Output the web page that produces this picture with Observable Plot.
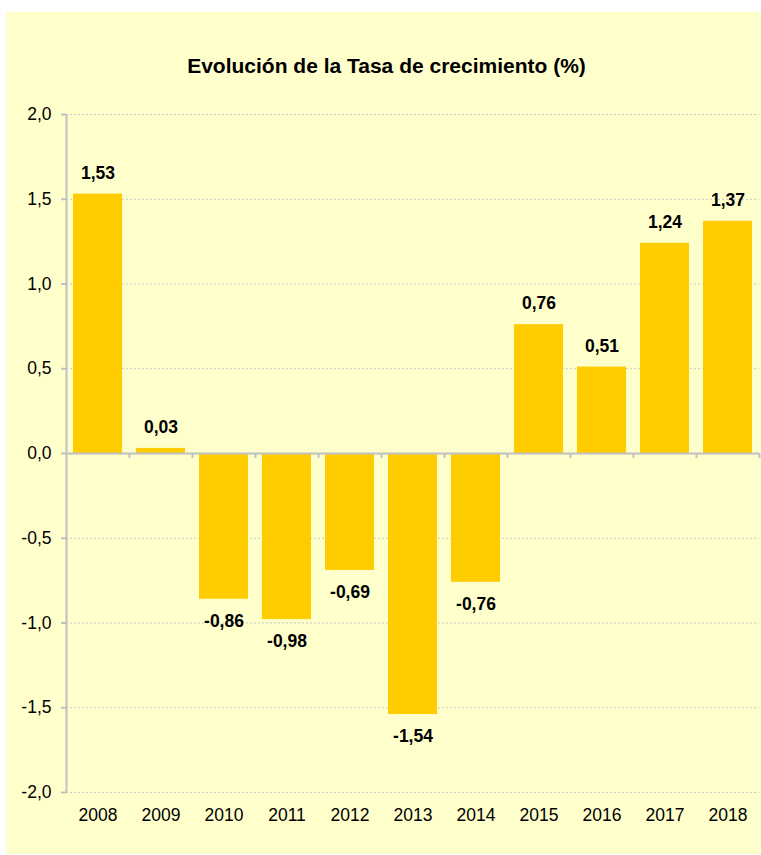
<!DOCTYPE html>
<html>
<head>
<meta charset="utf-8">
<script src="https://cdn.jsdelivr.net/npm/d3@7"></script>
<script src="https://cdn.jsdelivr.net/npm/@observablehq/plot@0.6"></script>
<style>
  html, body { margin: 0; padding: 0; background: #ffffff; }
  #wrap { position: relative; width: 761px; height: 855px; overflow: hidden; font-family: "Liberation Sans", Arial, sans-serif; }
  #panel { position: absolute; left: 6px; top: 12px; width: 755px; height: 842px; background: #FFFFCC; }
  #title { position: absolute; left: 0; width: 773px; top: 54px; line-height: 24px; text-align: center; font-weight: bold; font-size: 21px; color: #000; }
  #chart { position: absolute; left: 0; top: 0; }
</style>
</head>
<body>
<div id="wrap">
  <div id="panel"></div>
  <div id="title">Evolución de la Tasa de crecimiento (%)</div>
  <div id="chart"></div>
</div>
<script>
const years = ["2008","2009","2010","2011","2012","2013","2014","2015","2016","2017","2018"];
const values = [1.53, 0.03, -0.86, -0.98, -0.69, -1.54, -0.76, 0.76, 0.51, 1.24, 1.37];
const yTicks = [-2, -1.5, -1, -0.5, 0, 0.5, 1, 1.5, 2];

const data = years.map((y, i) => ({year: y, value: values[i]}));
const fmt1 = d => d3.format(".1f")(d).replace(".", ",").replace("−", "-");
const fmt2 = d => d3.format(".2f")(d).replace(".", ",").replace("−", "-");

const W = 761, H = 855, mL = 66, mR = 2, mT = 114, mB = 63;
const halfStep = (W - mL - mR) / years.length / 2;

const chart = Plot.plot({
  width: W,
  height: H,
  marginLeft: mL,
  marginRight: mR,
  marginTop: mT,
  marginBottom: mB,
  style: {background: "transparent", fontFamily: "Liberation Sans, Arial, sans-serif", fontSize: "17.5px", color: "#000"},
  x: {domain: years, paddingInner: 0.22, paddingOuter: 0.11, label: null},
  y: {domain: [-2, 2], label: null},
  marks: [
    Plot.ruleY(yTicks.filter(d => d !== 0), {stroke: "#c8c8c8", strokeWidth: 1, strokeDasharray: "2,2"}),
    Plot.barY(data, {x: "year", y: "value", fill: "#FFCC00"}),
    Plot.ruleY([0], {stroke: "#c0c0c0", strokeWidth: 2}),
    Plot.ruleX([years[0]], {x: d => d, dx: -halfStep, y1: -2, y2: 2, stroke: "#c0c0c0", strokeWidth: 2}),
    Plot.ruleX(years, {x: d => d, dx: halfStep, y1: 0, y2: -0.03, stroke: "#c0c0c0", strokeWidth: 2}),
    Plot.axisY({ticks: yTicks, tickFormat: fmt1, tickSize: 5, tickPadding: 10, stroke: "#c0c0c0", strokeWidth: 2, fontSize: 17.5, fill: "#000"}),
    Plot.axisX({tickSize: 0, tickPadding: 16, fontSize: 17.5, fill: "#000"}),
    Plot.text(data, {
      x: "year", y: "value",
      text: d => fmt2(d.value),
      fontWeight: "bold", fontSize: 17.5, fill: "#000",
      lineAnchor: "middle",
      filter: d => d.value >= 0,
      dy: -21
    }),
    Plot.text(data, {
      x: "year", y: "value",
      text: d => fmt2(d.value),
      fontWeight: "bold", fontSize: 17.5, fill: "#000",
      lineAnchor: "middle",
      filter: d => d.value < 0,
      dy: 22
    })
  ]
});
document.getElementById("chart").appendChild(chart);
</script>
</body>
</html>
